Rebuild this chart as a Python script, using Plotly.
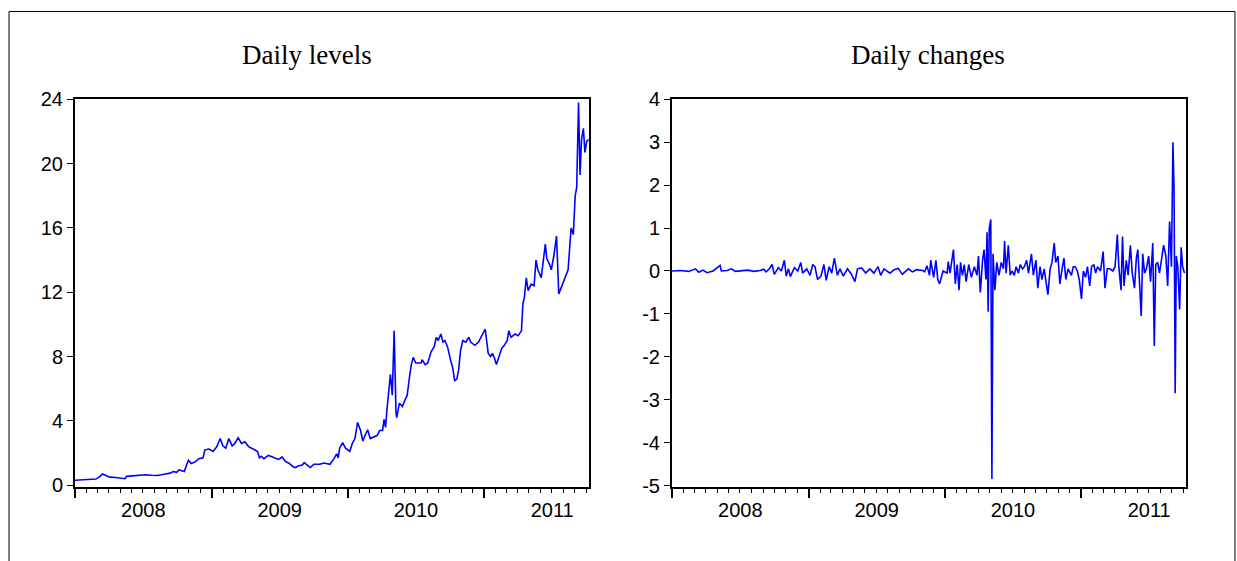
import plotly.graph_objects as go
from plotly.subplots import make_subplots

# ---------------- data ----------------
level_dates = [
    "2008-01-01", "2008-01-31", "2008-02-26", "2008-03-08", "2008-03-15", "2008-03-24",
    "2008-04-03", "2008-04-19", "2008-05-05", "2008-05-14", "2008-05-18", "2008-06-06",
    "2008-06-22", "2008-07-08", "2008-07-24", "2008-08-09", "2008-08-30", "2008-09-12",
    "2008-09-20", "2008-09-29", "2008-10-06", "2008-10-14", "2008-10-20", "2008-10-25",
    "2008-10-31", "2008-11-07", "2008-11-18", "2008-11-28", "2008-12-09", "2008-12-14",
    "2008-12-25", "2009-01-05", "2009-01-15", "2009-01-24", "2009-01-31", "2009-02-08",
    "2009-02-16", "2009-02-25", "2009-03-04", "2009-03-13", "2009-03-22", "2009-03-31",
    "2009-04-10", "2009-04-26", "2009-05-04", "2009-05-09", "2009-05-14", "2009-05-21",
    "2009-06-02", "2009-06-13", "2009-06-29", "2009-07-09", "2009-07-17", "2009-07-28",
    "2009-08-07", "2009-08-14", "2009-08-21", "2009-09-01", "2009-09-06", "2009-09-17",
    "2009-09-22", "2009-10-02", "2009-10-18", "2009-10-29", "2009-11-14", "2009-11-25",
    "2009-12-02", "2009-12-06", "2009-12-10", "2009-12-18", "2009-12-26", "2010-01-06",
    "2010-01-13", "2010-01-20", "2010-01-27", "2010-02-04", "2010-02-10", "2010-02-18",
    "2010-02-23", "2010-03-02", "2010-03-11", "2010-03-21", "2010-03-27", "2010-04-04",
    "2010-04-08", "2010-04-12", "2010-04-15", "2010-04-20", "2010-04-25", "2010-04-30",
    "2010-05-05", "2010-05-10", "2010-05-12", "2010-05-19", "2010-05-27", "2010-06-03",
    "2010-06-09", "2010-06-15", "2010-06-20", "2010-06-25", "2010-07-02", "2010-07-16",
    "2010-07-19", "2010-07-27", "2010-08-03", "2010-08-12", "2010-08-20", "2010-08-26",
    "2010-08-31", "2010-09-07", "2010-09-13", "2010-09-18", "2010-09-25", "2010-10-04",
    "2010-10-09", "2010-10-14", "2010-10-20", "2010-10-25", "2010-10-30", "2010-11-05",
    "2010-11-13", "2010-11-21", "2010-11-26", "2010-12-07", "2010-12-17", "2010-12-28",
    "2011-01-04", "2011-01-12", "2011-01-18", "2011-01-23", "2011-01-29", "2011-02-03",
    "2011-02-10", "2011-02-17", "2011-02-24", "2011-03-04", "2011-03-08", "2011-03-14",
    "2011-03-25", "2011-04-02", "2011-04-11", "2011-04-15", "2011-04-19", "2011-04-24",
    "2011-04-29", "2011-05-07", "2011-05-15", "2011-05-20", "2011-05-25", "2011-06-03",
    "2011-06-14", "2011-06-18", "2011-06-26", "2011-06-30", "2011-07-07", "2011-07-14",
    "2011-07-20", "2011-07-28", "2011-08-06", "2011-08-14", "2011-08-22", "2011-08-28",
    "2011-09-02", "2011-09-06", "2011-09-11", "2011-09-15", "2011-09-19", "2011-09-24",
    "2011-09-28", "2011-10-03", "2011-10-08",
]
level_values = [
    0.31, 0.35, 0.38, 0.55, 0.70, 0.60,
    0.50, 0.48, 0.42, 0.40, 0.55, 0.58,
    0.65, 0.65, 0.62, 0.60, 0.70, 0.75,
    0.85, 0.80, 0.95, 0.90, 0.85, 1.20,
    1.55, 1.35, 1.45, 1.65, 1.70, 2.20,
    2.25, 2.10, 2.40, 2.90, 2.45, 2.30,
    2.90, 2.45, 2.60, 2.95, 2.60, 2.70,
    2.40, 2.20, 2.10, 1.70, 1.80, 1.65,
    1.85, 1.75, 1.60, 1.75, 1.50, 1.35,
    1.15, 1.10, 1.20, 1.25, 1.40, 1.20,
    1.10, 1.30, 1.30, 1.38, 1.30, 1.65,
    1.95, 1.70, 2.30, 2.65, 2.30, 2.10,
    2.60, 2.90, 3.90, 3.40, 2.75, 3.20,
    3.45, 2.90, 3.00, 3.10, 3.40, 3.40,
    4.10, 3.60, 4.50, 5.70, 6.90, 5.60,
    9.60, 4.50, 4.20, 5.10, 4.90, 5.30,
    5.60, 6.70, 7.50, 7.95, 7.60, 7.60,
    7.80, 7.50, 7.60, 8.30, 8.60, 9.20,
    9.00, 9.40, 8.90, 9.00, 8.60, 7.70,
    7.30, 6.50, 6.60, 7.20, 8.40, 9.00,
    8.90, 9.20, 8.90, 8.70, 8.90, 9.40,
    9.70, 8.20, 8.00, 8.20, 7.90, 7.50,
    8.00, 8.50, 8.70, 9.00, 9.60, 9.20,
    9.40, 9.30, 9.60, 11.30, 11.70, 12.90,
    12.10, 12.50, 12.40, 14.00, 13.40, 12.90,
    15.00, 14.10, 13.70, 13.40, 14.30, 15.50,
    11.90, 12.40, 13.00, 13.40, 16.00, 15.60,
    18.00, 18.50, 23.80, 19.30, 21.50, 22.20,
    20.70, 21.40, 21.50,
]

change_dates = [
    "2008-01-01", "2008-01-24", "2008-02-15", "2008-03-04", "2008-03-13", "2008-03-24",
    "2008-04-04", "2008-04-20", "2008-05-09", "2008-05-12", "2008-05-28", "2008-06-08",
    "2008-06-19", "2008-07-05", "2008-07-22", "2008-08-07", "2008-08-24", "2008-09-03",
    "2008-09-09", "2008-09-18", "2008-09-25", "2008-10-01", "2008-10-12", "2008-10-20",
    "2008-10-28", "2008-11-02", "2008-11-08", "2008-11-13", "2008-11-24", "2008-12-03",
    "2008-12-11", "2008-12-16", "2008-12-27", "2009-01-05", "2009-01-12", "2009-01-18",
    "2009-01-25", "2009-02-03", "2009-02-11", "2009-02-17", "2009-02-25", "2009-03-04",
    "2009-03-11", "2009-03-19", "2009-03-26", "2009-04-04", "2009-04-15", "2009-04-26",
    "2009-05-05", "2009-05-12", "2009-05-23", "2009-06-03", "2009-06-14", "2009-06-25",
    "2009-07-06", "2009-07-13", "2009-07-22", "2009-08-07", "2009-08-18", "2009-08-29",
    "2009-09-09", "2009-09-25", "2009-10-06", "2009-10-17", "2009-11-03", "2009-11-08",
    "2009-11-14", "2009-11-21", "2009-11-24", "2009-12-02", "2009-12-08", "2009-12-13",
    "2009-12-18", "2009-12-27", "2010-01-07", "2010-01-10", "2010-01-15", "2010-01-19",
    "2010-01-24", "2010-01-29", "2010-02-03", "2010-02-08", "2010-02-12", "2010-02-17",
    "2010-02-22", "2010-02-27", "2010-03-06", "2010-03-13", "2010-03-21", "2010-03-28",
    "2010-04-01", "2010-04-06", "2010-04-12", "2010-04-16", "2010-04-21", "2010-04-24",
    "2010-04-27", "2010-04-30", "2010-05-04", "2010-05-07", "2010-05-10", "2010-05-15",
    "2010-05-20", "2010-05-26", "2010-06-01", "2010-06-07", "2010-06-10", "2010-06-14",
    "2010-06-20", "2010-06-25", "2010-06-30", "2010-07-06", "2010-07-11", "2010-07-17",
    "2010-07-22", "2010-07-28", "2010-08-02", "2010-08-08", "2010-08-13", "2010-08-21",
    "2010-08-26", "2010-09-02", "2010-09-07", "2010-09-13", "2010-09-18", "2010-09-24",
    "2010-09-29", "2010-10-04", "2010-10-10", "2010-10-15", "2010-10-21", "2010-10-25",
    "2010-10-31", "2010-11-05", "2010-11-11", "2010-11-16", "2010-11-21", "2010-11-27",
    "2010-12-06", "2010-12-11", "2010-12-16", "2010-12-22", "2010-12-27", "2011-01-02",
    "2011-01-07", "2011-01-13", "2011-01-18", "2011-01-24", "2011-01-29", "2011-02-04",
    "2011-02-09", "2011-02-14", "2011-02-22", "2011-03-01", "2011-03-06", "2011-03-12",
    "2011-03-19", "2011-03-27", "2011-04-02", "2011-04-08", "2011-04-12", "2011-04-18",
    "2011-04-22", "2011-04-26", "2011-05-02", "2011-05-07", "2011-05-13", "2011-05-18",
    "2011-05-24", "2011-05-29", "2011-06-02", "2011-06-07", "2011-06-11", "2011-06-15",
    "2011-06-20", "2011-06-25", "2011-07-01", "2011-07-06", "2011-07-12", "2011-07-16",
    "2011-07-20", "2011-07-25", "2011-07-30", "2011-08-05", "2011-08-10", "2011-08-16",
    "2011-08-21", "2011-08-26", "2011-08-31", "2011-09-04", "2011-09-07", "2011-09-10",
    "2011-09-13", "2011-09-17", "2011-09-22", "2011-09-26", "2011-09-30", "2011-10-05",
]
change_values = [
    0.00, 0.01, -0.01, 0.05, -0.03, 0.02,
    -0.04, 0.00, 0.13, 0.00, 0.01, 0.05,
    -0.01, 0.00, 0.02, -0.01, 0.01, 0.04,
    -0.02, 0.05, 0.15, -0.08, 0.08, 0.00,
    0.25, -0.12, 0.05, -0.13, 0.08, 0.00,
    0.20, -0.05, 0.05, -0.10, 0.15, 0.10,
    -0.20, -0.12, 0.15, -0.22, 0.10, -0.05,
    0.30, -0.10, 0.05, -0.12, 0.05, -0.08,
    -0.25, 0.05, 0.07, -0.05, 0.05, -0.05,
    0.10, -0.10, 0.05, -0.05, 0.03, 0.06,
    -0.08, 0.05, -0.02, 0.03, 0.01, -0.02,
    0.12, -0.10, 0.25, -0.15, 0.25, -0.20,
    -0.30, 0.00, -0.05, 0.22, -0.05, 0.20,
    0.50, -0.30, 0.15, -0.45, 0.20, -0.10,
    0.15, -0.25, 0.15, -0.15, 0.10, -0.10,
    0.35, -0.50, 0.25, 0.50, -0.20, 0.90,
    -0.95, 1.00, 1.20, -4.85, 0.40, -0.45,
    0.20, -0.10, 0.20, 0.05, 0.70, -0.05,
    0.60, -0.10, 0.00, -0.10, 0.10, -0.05,
    0.15, 0.05, 0.10, 0.25, -0.05, 0.40,
    -0.10, 0.25, -0.40, 0.10, -0.20, 0.05,
    -0.30, -0.55, 0.05, 0.20, 0.65, 0.20,
    0.35, -0.30, 0.05, 0.30, -0.20, 0.05,
    -0.10, 0.10, 0.10, 0.00, -0.20, -0.65,
    0.00, -0.15, 0.10, -0.35, 0.10, 0.15,
    -0.05, 0.10, 0.00, 0.45, -0.40, 0.05,
    0.05, 0.00, 0.10, 0.85, 0.10, -0.45,
    0.80, -0.35, 0.25, -0.10, 0.60, -0.05,
    -0.40, 0.30, 0.50, -0.45, -1.05, 0.40,
    -0.05, 0.05, 0.35, -0.25, 0.65, -1.75,
    0.15, 0.20, -0.05, 0.30, 0.60, 0.35,
    -0.35, 1.15, 0.10, 3.00, 1.90, -2.85,
    0.35, 0.10, -0.90, 0.55, 0.10, -0.05,
]

panel_titles = ["Daily levels", "Daily changes"]
level_ticks = [0, 4, 8, 12, 16, 20, 24]
change_ticks = [-5, -4, -3, -2, -1, 0, 1, 2, 3, 4]
change_tick_labels = ["-5", "-4", "-3", "-2", "-1", "0", "1", "2", "3", "4"]
x_start, x_end = "2008-01-01", "2011-10-09"

# ---------------- figure ----------------
W, H = 1237, 561
fig = make_subplots(rows=1, cols=2)

line_style = dict(color="#0000FF", width=1.6)
fig.add_trace(go.Scatter(x=level_dates, y=level_values, mode="lines",
                         line=line_style, showlegend=False), row=1, col=1)
fig.add_trace(go.Scatter(x=change_dates, y=change_values, mode="lines",
                         line=line_style, showlegend=False), row=1, col=2)

tick_font = dict(family="Liberation Sans, Arial, sans-serif", size=20, color="black")

xcommon = dict(
    type="date", range=[x_start, x_end], tick0="2008-01-01", dtick="M12",
    ticklabelmode="period", tickformat="%Y", ticks="outside", ticklen=9,
    tickwidth=1.5, tickcolor="black", showgrid=False, zeroline=False,
    showline=True, linecolor="black", linewidth=2, mirror=True,
    tickfont=tick_font, ticklabelstandoff=-5,
    minor=dict(dtick="M1", tick0="2008-01-01", ticks="outside", ticklen=4,
               tickwidth=1.2, tickcolor="black", showgrid=False),
)
ycommon = dict(
    ticks="outside", ticklen=6, tickwidth=1.2, tickcolor="black",
    showgrid=False, zeroline=False, showline=True, linecolor="black",
    linewidth=2, mirror=True, tickfont=tick_font,
)

# plot-area edges (fractions of the figure height)
y0p, y1p = 0.1189, 0.8364
fig.update_xaxes(**xcommon)
fig.update_yaxes(**ycommon)
fig.update_layout(
    xaxis=dict(domain=[75 / W, 589 / W]),
    xaxis2=dict(domain=[672 / W, 1186 / W]),
    yaxis=dict(domain=[y0p, y1p], range=[-0.1, 24], tickvals=level_ticks),
    yaxis2=dict(domain=[y0p, y1p], range=[-5.03, 4], tickvals=change_ticks,
                ticktext=change_tick_labels),
)

title_font = dict(family="Liberation Serif, Times New Roman, serif", size=27, color="black")
for xc, txt in zip([306.5 / W, 928 / W], panel_titles):
    fig.add_annotation(x=xc, y=0.919, xref="paper", yref="paper",
                       text=txt, showarrow=False, font=title_font,
                       xanchor="center", yanchor="middle")

# outer frame (open at the bottom of the picture)
fig.add_shape(type="rect", xref="paper", yref="paper",
              x0=9 / W, x1=1235 / W, y0=-0.1, y1=0.999,
              line=dict(color="black", width=1), fillcolor="rgba(0,0,0,0)",
              layer="below")

fig.update_layout(
    width=W, height=H, autosize=False, margin=dict(l=0, r=0, t=0, b=0),
    paper_bgcolor="white", plot_bgcolor="white", showlegend=False,
)

page_fix = (
    "document.documentElement.style.margin='0';"
    "document.documentElement.style.overflow='hidden';"
    "document.body.style.margin='0';"
    "document.body.style.padding='0';"
    "document.body.style.overflow='hidden';"
)
fig.write_html("out.html", post_script=page_fix,
               config={"responsive": False, "displayModeBar": False})
